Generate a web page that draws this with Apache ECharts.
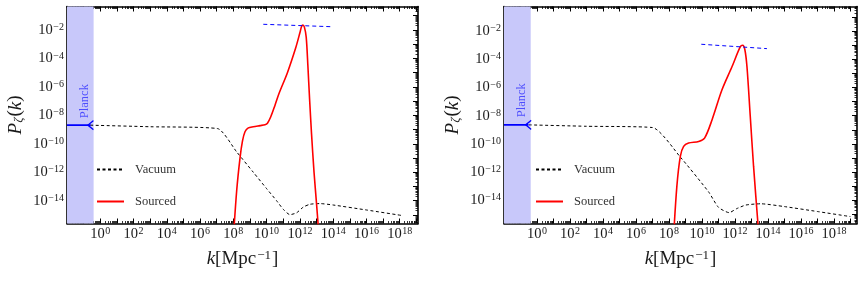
<!DOCTYPE html>
<html>
<head>
<meta charset="utf-8">
<script src="https://cdn.jsdelivr.net/npm/echarts@6/dist/echarts.min.js"></script>
<style>
  html, body { margin: 0; padding: 0; background: #fff; }
  #chart { width: 864px; height: 305px; }
</style>
</head>
<body>
<div id="chart"></div>
<script>
// Everything is stored as log10 values: x = log10(k / Mpc^-1), y = log10(P_zeta)
const xLabelExps = [0, 2, 4, 6, 8, 10, 12, 14, 16, 18];
const yLabelExps = [-14, -12, -10, -8, -6, -4, -2];

// left panel
const vacuumA = [[-0.6, -8.69], [3.0, -8.8], [7.05, -8.93], [8.2, -10.57], [9.2, -12.0], [10.0, -13.15],
  [10.6, -14.0], [11.0, -14.6], [11.4, -14.98], [11.8, -14.85], [12.2, -14.45], [12.6, -14.25],
  [13.2, -14.2], [14.0, -14.3], [16.0, -14.65], [18.2, -15.05]];
const sourcedA = [[7.98, -17], [8.2, -13.3], [8.4, -11.0], [8.55, -9.8], [8.7, -9.15], [8.9, -8.88],
  [9.2, -8.8], [9.6, -8.72], [9.9, -8.66], [10.05, -8.55], [10.25, -8.1], [10.5, -7.3], [10.75, -6.45],
  [11.25, -5.0], [11.75, -3.25], [12.0, -2.2], [12.1, -1.75], [12.18, -1.66], [12.27, -1.8],
  [12.38, -2.5], [12.48, -4.5], [12.58, -6.8], [12.7, -9.3], [12.85, -12.0], [13.0, -14.2], [13.15, -16.5]];
const peakLineA = [[9.8, -1.6], [13.9, -1.77]];
const planckA = [[-2.0, -8.69], [-0.58, -8.69]];

// right panel
const vacuumB = [[-0.5, -8.65], [3.0, -8.75], [7.0, -8.84], [8.7, -10.95], [10.4, -13.4], [11.0, -14.5],
  [11.65, -14.88], [12.1, -14.6], [12.66, -14.34], [13.56, -14.25], [15.0, -14.45], [17.0, -14.8],
  [19.0, -15.16]];
const sourcedB = [[8.26, -17], [8.48, -13.0], [8.69, -10.88], [8.89, -10.18], [9.19, -9.94], [9.8, -9.83],
  [10.16, -9.59], [10.61, -8.3], [11.21, -6.18], [11.82, -4.53], [12.32, -3.12], [12.47, -3.0],
  [12.6, -3.3], [12.73, -4.53], [12.93, -8.06], [13.13, -11.6], [13.45, -16.5]];
const peakLineB = [[9.96, -2.93], [13.94, -3.24]];
const planckB = [[-2.0, -8.65], [-0.52, -8.65]];

const bandEdge = [-0.4, -0.38];
const planckText = [[-0.96, -7.0], [-0.9, -6.9]];

const xRange = [[-2.0, 19.1], [-2.0, 19.4]];
const yRange = [[-15.6, -0.35], [-15.65, -0.25]];

const FONT = 'Liberation Serif';
const INK = '#1a1a1a';

function range(a, b) { const r = []; for (let i = a; i <= b; i++) r.push(i); return r; }
function minorTicks(lo, hi) {
  const r = [];
  for (let d = Math.floor(lo) - 1; d <= hi; d++) {
    for (let m = 2; m <= 9; m++) {
      const v = d + Math.log10(m);
      if (v > lo && v < hi) r.push(v);
    }
  }
  return r;
}
function powLabel(v) {
  const e = v < 0 ? '\u2212' + (-v) : String(v);
  return '{b|10}{s|' + e + '}';
}
const powRich = {
  b: { fontFamily: FONT, fontSize: 14.5, color: INK, lineHeight: 15, verticalAlign: 'bottom' },
  s: { fontFamily: FONT, fontSize: 10, color: INK, lineHeight: 11, verticalAlign: 'top', padding: [0, 0, 8, 0.5] }
};

const lineFrame = { show: true, onZero: false, lineStyle: { color: '#000', width: 1.6 } };
const noLine = { show: false, onZero: false };

function xAxesFor(g) {
  const [lo, hi] = xRange[g];
  const base = { gridIndex: g, type: 'value', min: lo, max: hi, splitLine: { show: false } };
  const major = range(Math.ceil(lo), Math.floor(hi));
  const minor = minorTicks(lo, hi);
  return [
    Object.assign({}, base, {
      position: 'bottom', axisLine: lineFrame,
      axisTick: { inside: true, length: 5, customValues: major, lineStyle: { color: '#000', width: 1 } },
      axisLabel: { customValues: xLabelExps, formatter: powLabel, rich: powRich, margin: 3 },
      name: '{i|k}{n|[Mpc}{s|\u22121}{n|]}', nameLocation: 'middle', nameGap: 13,
      nameTextStyle: {
        rich: {
          i: { fontFamily: FONT, fontStyle: 'italic', fontSize: 19, color: INK, lineHeight: 19, verticalAlign: 'bottom' },
          n: { fontFamily: FONT, fontSize: 19, color: INK, lineHeight: 19, verticalAlign: 'bottom' },
          s: { fontFamily: FONT, fontSize: 13, color: INK, lineHeight: 13, verticalAlign: 'top', padding: [0, 1, 10, 1] }
        }
      }
    }),
    Object.assign({}, base, {
      position: 'bottom', axisLine: noLine,
      axisTick: { inside: true, length: 2.5, customValues: minor, lineStyle: { color: '#000', width: 0.8 } },
      axisLabel: { show: false }
    }),
    Object.assign({}, base, {
      position: 'top', axisLine: lineFrame,
      axisTick: { inside: true, length: 5, customValues: major, lineStyle: { color: '#000', width: 1 } },
      axisLabel: { show: false }
    }),
    Object.assign({}, base, {
      position: 'top', axisLine: noLine,
      axisTick: { inside: true, length: 2.5, customValues: minor, lineStyle: { color: '#000', width: 0.8 } },
      axisLabel: { show: false }
    })
  ];
}

function yAxesFor(g) {
  const [lo, hi] = yRange[g];
  const base = { gridIndex: g, type: 'value', min: lo, max: hi, splitLine: { show: false } };
  const major = range(Math.ceil(lo), Math.floor(hi));
  const minor = minorTicks(lo, hi);
  return [
    Object.assign({}, base, {
      position: 'left', axisLine: lineFrame,
      axisTick: { inside: true, length: 5, customValues: major, lineStyle: { color: '#000', width: 1 } },
      axisLabel: { customValues: yLabelExps, formatter: powLabel, rich: powRich, margin: 3 },
      name: '{i|P}{z|\u03B6}{n|(}{i|k}{n|)}', nameLocation: 'middle', nameGap: 42, nameRotate: 90,
      nameTextStyle: {
        rich: {
          i: { fontFamily: FONT, fontStyle: 'italic', fontSize: 19, color: INK, lineHeight: 19, verticalAlign: 'top' },
          n: { fontFamily: FONT, fontSize: 19, color: INK, lineHeight: 19, verticalAlign: 'top' },
          z: { fontFamily: FONT, fontStyle: 'italic', fontSize: 13, color: INK, lineHeight: 13, verticalAlign: 'bottom', padding: [9, 1, 0, 0] }
        }
      }
    }),
    Object.assign({}, base, {
      position: 'left', axisLine: noLine,
      axisTick: { inside: true, length: 2.5, customValues: minor, lineStyle: { color: '#000', width: 0.8 } },
      axisLabel: { show: false }
    }),
    Object.assign({}, base, {
      position: 'right', axisLine: lineFrame,
      axisTick: { inside: true, length: 5, customValues: major, lineStyle: { color: '#000', width: 1 } },
      axisLabel: { show: false }
    }),
    Object.assign({}, base, {
      position: 'right', axisLine: noLine,
      axisTick: { inside: true, length: 2.5, customValues: minor, lineStyle: { color: '#000', width: 0.8 } },
      axisLabel: { show: false }
    })
  ];
}

const panels = [
  { vacuum: vacuumA, sourced: sourcedA, peak: peakLineA, planck: planckA },
  { vacuum: vacuumB, sourced: sourcedB, peak: peakLineB, planck: planckB }
];

const series = [];
panels.forEach((p, g) => {
  const axes = { xAxisIndex: g * 4, yAxisIndex: g * 4 };
  series.push(Object.assign({
    name: 'Planck band', type: 'line', data: [], silent: true,
    markArea: {
      silent: true,
      itemStyle: { color: '#c8c8fa' },
      data: [[{ xAxis: xRange[g][0] }, { xAxis: bandEdge[g] }]]
    }
  }, axes));
  series.push(Object.assign({
    name: 'Vacuum', type: 'line', data: p.vacuum, symbol: 'none', smooth: 0.2,
    lineStyle: { color: '#000', width: 1, type: [3, 2.5] }, itemStyle: { color: '#000' }, z: 3
  }, axes));
  series.push(Object.assign({
    name: 'Sourced', type: 'line', data: p.sourced, symbol: 'none', smooth: 0.3,
    lineStyle: { color: '#ff0000', width: 1.6 }, itemStyle: { color: '#ff0000' }, z: 4
  }, axes));
  series.push(Object.assign({
    name: 'peak', type: 'line', data: p.peak, symbol: 'none',
    lineStyle: { color: '#0000ff', width: 1, type: [4, 3] }, z: 5
  }, axes));
  series.push(Object.assign({
    name: 'planck mark', type: 'line', symbolKeepAspect: true,
    data: [
      { value: p.planck[0], symbol: 'none' },
      { value: p.planck[1], symbol: 'path://M8,0 L0,5 L8,10', symbolSize: [7, 9],
        itemStyle: { color: 'none', borderColor: '#0000ff', borderWidth: 1.2 } }
    ],
    lineStyle: { color: '#0000ff', width: 1.6 }, z: 5
  }, axes));
  series.push(Object.assign({
    name: 'planck text', type: 'scatter', data: [planckText[g]], symbolSize: 1,
    itemStyle: { color: 'transparent' },
    label: { show: true, position: 'inside', formatter: 'Planck', rotate: 90,
      fontFamily: FONT, fontSize: 12.5, color: '#3030ff' }, z: 6
  }, axes));
});

const legendBase = {
  orient: 'vertical', top: 163, itemGap: 19, itemWidth: 27, itemHeight: 14, padding: 0,
  data: ['Vacuum', 'Sourced'], selectedMode: false,
  itemStyle: { opacity: 0, color: 'transparent', borderWidth: 0 },
  textStyle: { fontFamily: FONT, fontSize: 12.5, color: '#333', padding: [0, 0, 0, 6] }
};

const chart = echarts.init(document.getElementById('chart'));
chart.setOption({
  animation: false,
  grid: [
    { left: 67, top: 6.5, width: 351, height: 217 },
    { left: 504, top: 6.5, width: 353, height: 217 }
  ],
  legend: [
    Object.assign({ left: 96 }, legendBase),
    Object.assign({ left: 535 }, legendBase)
  ],
  xAxis: xAxesFor(0).concat(xAxesFor(1)),
  yAxis: yAxesFor(0).concat(yAxesFor(1)),
  series: series
});
</script>
</body>
</html>
